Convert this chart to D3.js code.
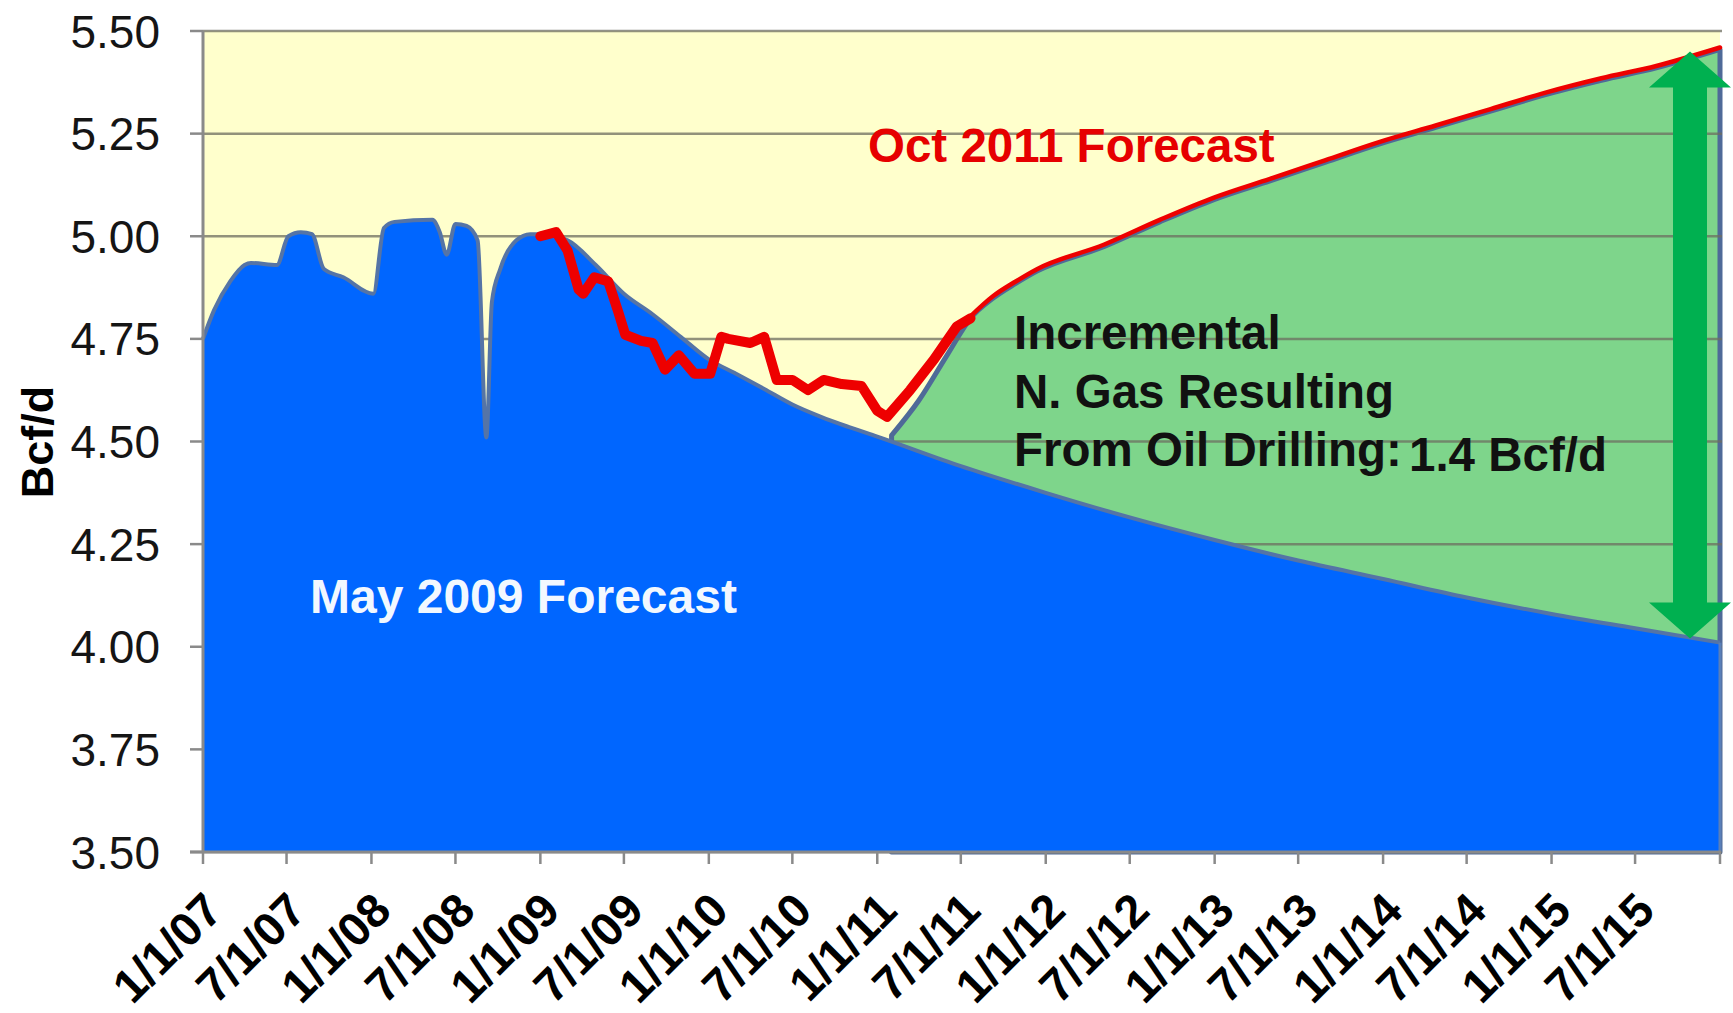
<!DOCTYPE html>
<html><head><meta charset="utf-8">
<script src="https://cdn.jsdelivr.net/npm/d3@7"></script>
<style>html,body{margin:0;padding:0;background:#fff;} svg{display:block;}</style>
</head><body>
<svg id="chart" width="1733" height="1013"></svg>
<script>
// ---- DATA ----
const may2009Dates = ["2007-01-01","2007-01-25","2007-03-01","2007-04-01","2007-04-15","2007-06-10","2007-07-05","2007-08-01","2007-08-25","2007-09-20","2007-11-01","2008-01-05","2008-01-28","2008-02-20","2008-05-12","2008-05-28","2008-06-12","2008-07-01","2008-07-25","2008-08-18","2008-09-06","2008-09-18","2008-10-06","2008-11-10","2008-12-10","2009-01-01","2009-03-01","2009-05-01","2009-07-01","2009-09-01","2009-11-01","2010-01-01","2010-03-01","2010-05-01","2010-07-01","2010-09-01","2010-11-01","2011-01-01","2011-07-01","2012-01-01","2012-07-01","2013-01-01","2013-07-01","2014-01-01","2014-07-01","2015-01-01","2015-07-01","2016-01-01"];
const may2009Values = [4.75,4.82,4.89,4.93,4.935,4.93,5.00,5.01,5.005,4.92,4.90,4.86,5.02,5.035,5.04,5.01,4.955,5.03,5.025,4.99,4.51,4.84,4.92,4.99,5.005,5.005,4.99,4.93,4.86,4.81,4.755,4.70,4.665,4.628,4.59,4.56,4.535,4.512,4.44,4.375,4.315,4.26,4.21,4.165,4.12,4.08,4.045,4.01];

const redDates = ["2009-01-01","2009-02-04","2009-03-01","2009-03-25","2009-04-04","2009-04-28","2009-05-28","2009-06-19","2009-07-04","2009-08-07","2009-09-01","2009-09-28","2009-10-28","2009-12-01","2010-01-04","2010-01-28","2010-02-12","2010-04-01","2010-05-01","2010-05-28","2010-07-01","2010-08-04","2010-09-07","2010-10-16","2010-11-28","2011-01-01","2011-01-22","2011-03-13","2011-05-04","2011-06-22","2011-07-22"];
const redValues = [5.00,5.01,4.965,4.87,4.86,4.90,4.89,4.815,4.76,4.745,4.74,4.675,4.71,4.665,4.665,4.755,4.75,4.74,4.755,4.65,4.65,4.625,4.65,4.64,4.635,4.575,4.56,4.625,4.70,4.78,4.80];

const octDates = ["2011-02-01","2011-04-01","2011-06-01","2011-07-22","2011-09-10","2011-10-28","2011-12-13","2012-05-07","2012-09-04","2013-01-01","2013-05-01","2013-08-28","2013-12-25","2014-04-25","2014-08-22","2014-12-19","2015-04-19","2015-08-16","2016-01-01"];
const octValues = [4.515,4.60,4.71,4.80,4.85,4.885,4.915,4.975,5.035,5.09,5.135,5.18,5.225,5.265,5.305,5.345,5.38,5.41,5.455];

const yTicks = [3.50,3.75,4.00,4.25,4.50,4.75,5.00,5.25,5.50];
const xTickDates = ["2007-01-01","2007-07-01","2008-01-01","2008-07-01","2009-01-01","2009-07-01","2010-01-01","2010-07-01","2011-01-01","2011-07-01","2012-01-01","2012-07-01","2013-01-01","2013-07-01","2014-01-01","2014-07-01","2015-01-01","2015-07-01","2016-01-01"];
const xTickLabels = ["1/1/07","7/1/07","1/1/08","7/1/08","1/1/09","7/1/09","1/1/10","7/1/10","1/1/11","7/1/11","1/1/12","7/1/12","1/1/13","7/1/13","1/1/14","7/1/14","1/1/15","7/1/15",""];
const arrowDate = "2015-10-28";
const arrowTop = 5.45, arrowBottom = 4.02;

// ---- RENDER ----
const parse = d3.timeParse("%Y-%m-%d");
const FONT = "'Liberation Sans', Arial, Helvetica, sans-serif";
const svg = d3.select("#chart");
const X0 = 203, X1 = 1720, Y0 = 852, Y1 = 31;
const x = d3.scaleTime().domain([parse("2007-01-01"), parse("2016-01-01")]).range([X0, X1]);
const y = d3.scaleLinear().domain([3.5, 5.5]).range([Y0, Y1]);

const may = may2009Dates.map((d,i)=>({d:parse(d), v:may2009Values[i]}));
const red = redDates.map((d,i)=>({d:parse(d), v:redValues[i]}));
const oct = octDates.map((d,i)=>({d:parse(d), v:octValues[i]}));

// plot background
svg.append("rect").attr("x",X0).attr("y",Y1).attr("width",X1-X0).attr("height",Y0-Y1).attr("fill","#FFFFCC");

// green area (Oct 2011 forecast), lower part covered by blue
const areaG = d3.area().x(p=>x(p.d)).y0(y(3.5)).y1(p=>y(p.v)).curve(d3.curveMonotoneX);
svg.append("path").datum(oct).attr("d",areaG).attr("fill","#7ED58B")
  .attr("stroke","#4F6A98").attr("stroke-width",5).attr("stroke-linejoin","round");

// gridlines
svg.append("g").selectAll("line").data(yTicks).join("line")
  .attr("x1",X0).attr("x2",X1+2).attr("y1",d=>y(d)).attr("y2",d=>y(d))
  .attr("stroke","#6e6e60").attr("stroke-opacity",0.75).attr("stroke-width",2.5);

// blue area (May 2009 forecast)
const areaB = d3.area().x(p=>x(p.d)).y0(y(3.5)).y1(p=>y(p.v)).curve(d3.curveMonotoneX);
svg.append("path").datum(may).attr("d",areaB).attr("fill","#0066FF");
const lineB = d3.line().x(p=>x(p.d)).y(p=>y(p.v)).curve(d3.curveMonotoneX);
svg.append("path").datum(may).attr("d",lineB).attr("fill","none")
  .attr("stroke","#5574a6").attr("stroke-width",4).attr("stroke-linejoin","round");
svg.append("line").attr("x1",X1).attr("x2",X1).attr("y1",y(may2009Values[may2009Values.length-1])).attr("y2",Y0)
  .attr("stroke","#5a7fb8").attr("stroke-width",3);

// red history (thick)
const lineR = d3.line().x(p=>x(p.d)).y(p=>y(p.v));
svg.append("path").datum(red).attr("d",lineR).attr("fill","none")
  .attr("stroke","#EE0000").attr("stroke-width",10).attr("stroke-linejoin","round").attr("stroke-linecap","round");
// red forecast (thin) along top of green
const lineO = d3.line().x(p=>x(p.d)).y(p=>y(p.v)).curve(d3.curveMonotoneX);
svg.append("path").datum(oct.slice(3)).attr("d",lineO).attr("fill","none")
  .attr("transform","translate(0,-2)")
  .attr("stroke","#EE0000").attr("stroke-width",4.5).attr("stroke-linecap","round");

// axes lines
svg.append("line").attr("x1",X0).attr("x2",X0).attr("y1",Y1).attr("y2",Y0).attr("stroke","#8a8a8a").attr("stroke-width",3);
svg.append("line").attr("x1",X0-13).attr("x2",X1+1).attr("y1",Y0).attr("y2",Y0).attr("stroke","#8a8a8a").attr("stroke-width",3);

// y ticks + labels
const gy = svg.append("g");
gy.selectAll("line").data(yTicks).join("line")
  .attr("x1",X0-13).attr("x2",X0).attr("y1",d=>y(d)).attr("y2",d=>y(d))
  .attr("stroke","#8a8a8a").attr("stroke-width",2.5);
gy.selectAll("text").data(yTicks).join("text")
  .attr("x",160).attr("y",d=>y(d)).attr("dy","0.36em").attr("text-anchor","end")
  .attr("font-family",FONT).attr("font-size",46).attr("fill","#151515")
  .text(d=>d3.format(".2f")(d));

// x ticks + labels
const gx = svg.append("g");
gx.selectAll("line").data(xTickDates).join("line")
  .attr("x1",d=>x(parse(d))).attr("x2",d=>x(parse(d))).attr("y1",Y0).attr("y2",Y0+12)
  .attr("stroke","#8a8a8a").attr("stroke-width",2.5);
gx.selectAll("text").data(xTickDates).join("text")
  .attr("transform",d=>`translate(${x(parse(d))+22},${Y0+61}) rotate(-45)`)
  .attr("text-anchor","end")
  .attr("font-family",FONT).attr("font-size",47).attr("font-weight","bold").attr("fill","#000")
  .text((d,i)=>xTickLabels[i]);

// y axis title
svg.append("text").attr("transform","translate(53,442) rotate(-90)").attr("text-anchor","middle")
  .attr("font-family",FONT).attr("font-size",45).attr("font-weight","bold").attr("fill","#000").text("Bcf/d");

// green double arrow
const ax = x(parse(arrowDate)), yt = y(arrowTop), yb = y(arrowBottom);
const sh = 17, hh = 41, hl = 36;
const arrowPts = [[ax,yt],[ax+hh,yt+hl],[ax+sh,yt+hl],[ax+sh,yb-hl],[ax+hh,yb-hl],[ax,yb],[ax-hh,yb-hl],[ax-sh,yb-hl],[ax-sh,yt+hl],[ax-hh,yt+hl]];
svg.append("path").attr("d","M"+arrowPts.map(p=>p.join(",")).join("L")+"Z").attr("fill","#00B050");

// annotations
svg.append("text").attr("x",868).attr("y",162).attr("font-family",FONT).attr("font-size",47.5)
  .attr("font-weight","bold").attr("fill","#E60000").text("Oct 2011 Forecast");
svg.append("text").attr("x",310).attr("y",613).attr("font-family",FONT).attr("font-size",48)
  .attr("font-weight","bold").attr("fill","#F2F8FF").text("May 2009 Forecast");
const inc = ["Incremental","N. Gas Resulting","From Oil Drilling:"];
svg.append("g").selectAll("text").data(inc).join("text")
  .attr("x",1014).attr("y",(d,i)=>349+i*58.5).attr("font-family",FONT).attr("font-size",47.5)
  .attr("font-weight","bold").attr("fill","#111").text(d=>d);
svg.append("text").attr("x",1409).attr("y",471).attr("font-family",FONT).attr("font-size",47.5)
  .attr("font-weight","bold").attr("fill","#111").text("1.4 Bcf/d");
</script>
</body></html>
